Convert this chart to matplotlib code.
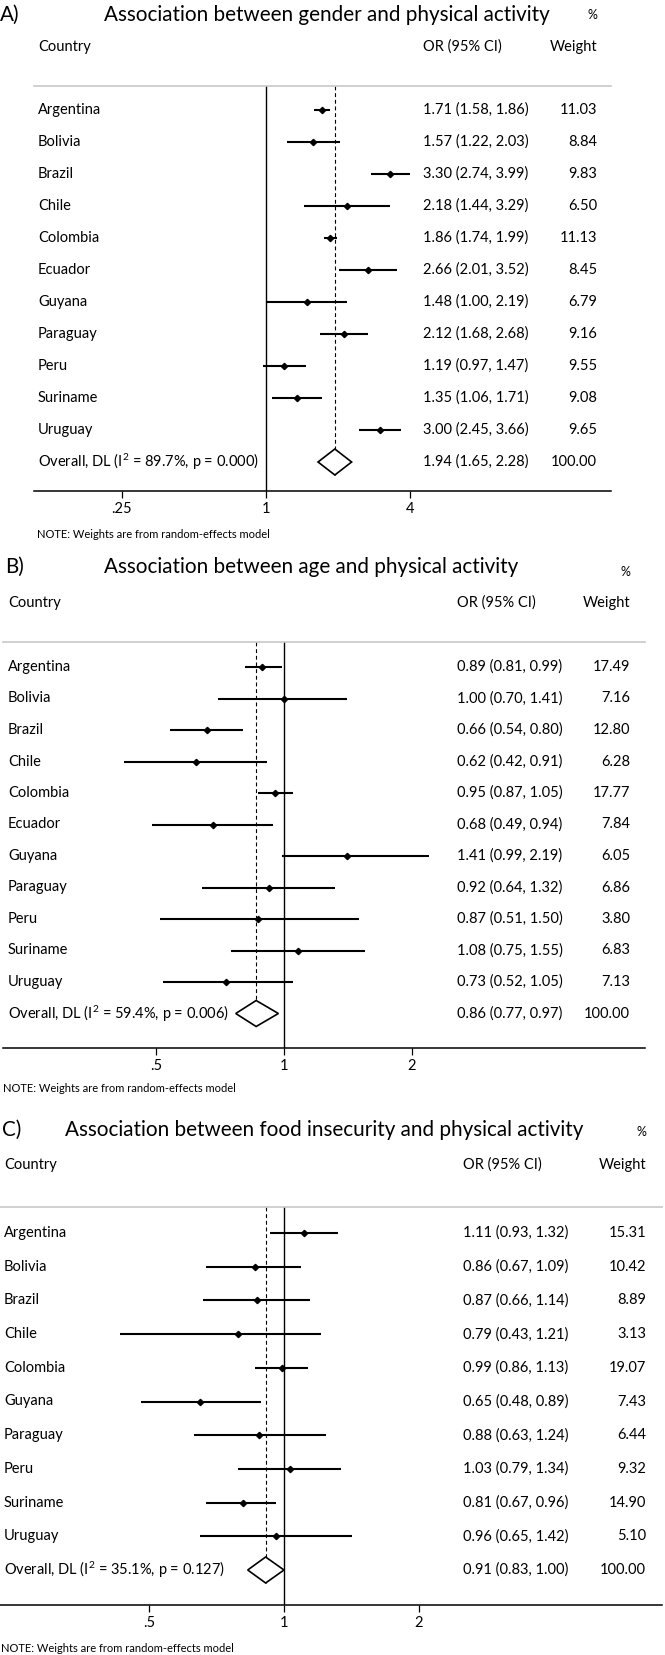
import numpy as np
import matplotlib
matplotlib.use('Agg')
from matplotlib import pyplot as plt
from matplotlib import transforms
from matplotlib.patches import Polygon

plt.rcParams['font.family'] = ['Lato', 'DejaVu Sans']
plt.rcParams['mathtext.fontset'] = 'custom'
plt.rcParams['mathtext.rm'] = 'Lato'
plt.rcParams['mathtext.it'] = 'Lato:italic'
plt.rcParams['mathtext.bf'] = 'Lato:bold'

# panel A: gender
countries_a = ['Argentina', 'Bolivia', 'Brazil', 'Chile', 'Colombia', 'Ecuador',
               'Guyana', 'Paraguay', 'Peru', 'Suriname', 'Uruguay']
or_a = [1.71, 1.57, 3.30, 2.18, 1.86, 2.66, 1.48, 2.12, 1.19, 1.35, 3.00]
lo_a = [1.58, 1.22, 2.74, 1.44, 1.74, 2.01, 1.00, 1.68, 0.97, 1.06, 2.45]
hi_a = [1.86, 2.03, 3.99, 3.29, 1.99, 3.52, 2.19, 2.68, 1.47, 1.71, 3.66]
weight_a = [11.03, 8.84, 9.83, 6.50, 11.13, 8.45, 6.79, 9.16, 9.55, 9.08, 9.65]
overall_a = [1.94, 1.65, 2.28]
i2_a, p_a = 89.7, 0.000
ticks_a = [0.25, 1, 4]
tick_labels_a = ['.25', '1', '4']

# panel B: age
countries_b = ['Argentina', 'Bolivia', 'Brazil', 'Chile', 'Colombia', 'Ecuador',
               'Guyana', 'Paraguay', 'Peru', 'Suriname', 'Uruguay']
or_b = [0.89, 1.00, 0.66, 0.62, 0.95, 0.68, 1.41, 0.92, 0.87, 1.08, 0.73]
lo_b = [0.81, 0.70, 0.54, 0.42, 0.87, 0.49, 0.99, 0.64, 0.51, 0.75, 0.52]
hi_b = [0.99, 1.41, 0.80, 0.91, 1.05, 0.94, 2.19, 1.32, 1.50, 1.55, 1.05]
weight_b = [17.49, 7.16, 12.80, 6.28, 17.77, 7.84, 6.05, 6.86, 3.80, 6.83, 7.13]
overall_b = [0.86, 0.77, 0.97]
i2_b, p_b = 59.4, 0.006
ticks_b = [0.5, 1, 2]
tick_labels_b = ['.5', '1', '2']

# panel C: food insecurity
countries_c = ['Argentina', 'Bolivia', 'Brazil', 'Chile', 'Colombia', 'Guyana',
               'Paraguay', 'Peru', 'Suriname', 'Uruguay']
or_c = [1.11, 0.86, 0.87, 0.79, 0.99, 0.65, 0.88, 1.03, 0.81, 0.96]
lo_c = [0.93, 0.67, 0.66, 0.43, 0.86, 0.48, 0.63, 0.79, 0.67, 0.65]
hi_c = [1.32, 1.09, 1.14, 1.21, 1.13, 0.89, 1.24, 1.34, 0.96, 1.42]
weight_c = [15.31, 10.42, 8.89, 3.13, 19.07, 7.43, 6.44, 9.32, 14.90, 5.10]
overall_c = [0.91, 0.83, 1.00]
i2_c, p_c = 35.1, 0.127
ticks_c = [0.5, 1, 2]
tick_labels_c = ['.5', '1', '2']

W, H = 665, 1655

# pixel layout of each panel
layout_a = dict(left=34, right=611, one=266, per2=72, top=86, bottom=491, row0=110, dy=32,
                title_y=15, pct_y=15, head_y=47, note_y=535, letter_x=0, title_x=104,
                label_x=38, or_x=423, w_x=597, note_x=37)
layout_b = dict(left=3, right=645, one=284, per2=128, top=642, bottom=1048, row0=667, dy=31.5,
                title_y=567, pct_y=572, head_y=603, note_y=1088, letter_x=5, title_x=104,
                label_x=8, or_x=457, w_x=630, note_x=3)
layout_c = dict(left=0, right=662, one=284, per2=135, top=1207, bottom=1605, row0=1233, dy=33.7,
                title_y=1130, pct_y=1132, head_y=1165, note_y=1648, letter_x=2, title_x=65,
                label_x=4, or_x=463, w_x=646, note_x=1)

FS = 10.5
TITLE_FS = 14.9
NOTE_FS = 8


def draw_panel(fig, lay, letter, title, countries, ors, los, his, weights, overall, i2, pval,
               ticks, tick_labels):
    ax = fig.add_axes([lay['left'] / W, 1 - lay['bottom'] / H,
                       (lay['right'] - lay['left']) / W, (lay['bottom'] - lay['top']) / H])
    n = len(countries)
    rows = np.arange(n)
    dy = lay['dy']

    ax.set_xscale('log', base=2)
    ax.set_xlim(2 ** ((lay['left'] - lay['one']) / lay['per2']),
                2 ** ((lay['right'] - lay['one']) / lay['per2']))
    ytop = (lay['top'] - lay['row0']) / dy
    ybot = (lay['bottom'] - lay['row0']) / dy
    ax.set_ylim(ybot, ytop)

    # confidence intervals and point estimates
    ax.hlines(rows, los, his, color='black', lw=1.5, zorder=3)
    ax.plot(ors, rows, 'D', color='black', ms=3.2, zorder=4)

    # pooled estimate
    h = 13 / dy
    est, lo, hi = overall
    diamond = Polygon([(lo, n), (est, n - h), (hi, n), (est, n + h)], closed=True,
                      facecolor='white', edgecolor='black', lw=1.2, zorder=3)
    ax.add_patch(diamond)

    ax.axvline(1, color='black', lw=1.0, zorder=2)
    ax.vlines(est, ytop, n + h, color='black', lw=0.8, linestyles=(0, (3.5, 2.5)), zorder=2)

    for side in ['left', 'right']:
        ax.spines[side].set_visible(False)
    ax.spines['top'].set_color('#c8c8c8')
    ax.spines['top'].set_linewidth(1.2)
    ax.spines['bottom'].set_linewidth(1.1)
    ax.set_yticks([])
    ax.set_xticks(ticks)
    ax.set_xticklabels(tick_labels)
    ax.minorticks_off()
    ax.tick_params(axis='x', length=5, width=0.9, labelsize=FS, pad=3)

    # text columns
    trans = transforms.blended_transform_factory(fig.transFigure, ax.transData)
    for i in range(n):
        ax.text(lay['label_x'] / W, i, countries[i], transform=trans, fontsize=FS,
                ha='left', va='center')
        ax.text(lay['or_x'] / W, i, f'{ors[i]:.2f} ({los[i]:.2f}, {his[i]:.2f})',
                transform=trans, fontsize=FS, ha='left', va='center')
        ax.text(lay['w_x'] / W, i, f'{weights[i]:.2f}', transform=trans, fontsize=FS,
                ha='right', va='center')
    ax.text(lay['label_x'] / W, n, f'Overall, DL (I$^2$ = {i2:.1f}%, p = {pval:.3f})',
            transform=trans, fontsize=FS, ha='left', va='center')
    ax.text(lay['or_x'] / W, n, f'{est:.2f} ({lo:.2f}, {hi:.2f})', transform=trans,
            fontsize=FS, ha='left', va='center')
    ax.text(lay['w_x'] / W, n, '100.00', transform=trans, fontsize=FS, ha='right', va='center')

    # headers
    fig.text(lay['letter_x'] / W, 1 - lay['title_y'] / H, letter, fontsize=TITLE_FS,
             ha='left', va='center')
    fig.text(lay['title_x'] / W, 1 - lay['title_y'] / H, title, fontsize=TITLE_FS,
             ha='left', va='center')
    fig.text(lay['w_x'] / W, 1 - lay['pct_y'] / H, '%', fontsize=FS - 1.5, ha='right', va='center')
    fig.text(lay['label_x'] / W, 1 - lay['head_y'] / H, 'Country', fontsize=FS,
             ha='left', va='center')
    fig.text(lay['or_x'] / W, 1 - lay['head_y'] / H, 'OR (95% CI)', fontsize=FS,
             ha='left', va='center')
    fig.text(lay['w_x'] / W, 1 - lay['head_y'] / H, 'Weight', fontsize=FS,
             ha='right', va='center')
    fig.text(lay['note_x'] / W, 1 - lay['note_y'] / H, 'NOTE: Weights are from random-effects model',
             fontsize=NOTE_FS, ha='left', va='center')
    return ax


fig = plt.figure(figsize=(W / 100, H / 100), dpi=100)
fig.patch.set_facecolor('white')

draw_panel(fig, layout_a, 'A)', 'Association between gender and physical activity',
           countries_a, or_a, lo_a, hi_a, weight_a, overall_a, i2_a, p_a, ticks_a, tick_labels_a)
draw_panel(fig, layout_b, 'B)', 'Association between age and physical activity',
           countries_b, or_b, lo_b, hi_b, weight_b, overall_b, i2_b, p_b, ticks_b, tick_labels_b)
draw_panel(fig, layout_c, 'C)', 'Association between food insecurity and physical activity',
           countries_c, or_c, lo_c, hi_c, weight_c, overall_c, i2_c, p_c, ticks_c, tick_labels_c)

fig.savefig('out.png', dpi=100)
